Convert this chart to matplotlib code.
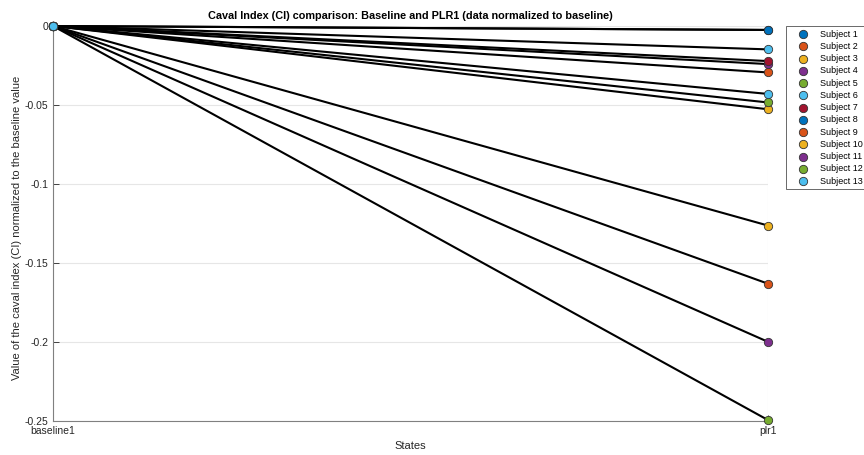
import numpy as np
import matplotlib.pyplot as plt

plt.rcParams['font.family'] = ['Liberation Sans', 'DejaVu Sans']

# 数据：每个受试者在两个状态下的归一化 CI
states = ['baseline1', 'plr1']
subjects = ['Subject %d' % i for i in range(1, 14)]
baseline = [0.0] * 13
plr1 = [-0.0025, -0.0294, -0.0527, -0.0241, -0.0484, -0.0148, -0.0222,
        -0.0025, -0.1631, -0.1263, -0.1999, -0.2494, -0.0430]
yTicks = [-0.25, -0.2, -0.15, -0.1, -0.05, 0]
yTickLabels = ['-0.25', '-0.2', '-0.15', '-0.1', '-0.05', '0']

# MATLAB 默认配色
cs = ['#0072BD', '#D95319', '#EDB120', '#7E2F8E', '#77AC30', '#4DBEEE', '#A2142F']

fig = plt.figure(figsize=(8.64, 4.55), dpi=100)
ax = fig.add_axes([53/864, 1-421/455, (768-53)/864, (421-26)/455])

xPos = np.arange(len(states))
handles = []
for i in range(len(subjects)):
    ax.plot(xPos, [baseline[i], plr1[i]], color='k', lw=1.5, zorder=2)
for i in range(len(subjects)):
    h = ax.scatter(xPos, [baseline[i], plr1[i]], s=36, color=cs[i % 7],
                   edgecolors='#333333', linewidths=0.6, zorder=3, label=subjects[i])
    handles.append(h)

ax.set_xlim(0, 1)
ax.set_ylim(-0.25, 0)
ax.set_xticks(xPos)
ax.set_xticklabels(states)
ax.set_yticks(yTicks)
ax.set_yticklabels(yTickLabels)
ax.tick_params(direction='in', length=4, labelsize=7.5, colors='#262626',
               labelcolor='#262626', width=0.6)
ax.grid(True, color='#e6e6e6', lw=0.8)
ax.set_axisbelow(True)
for s in ['top', 'right']:
    ax.spines[s].set_visible(False)
for s in ['left', 'bottom']:
    ax.spines[s].set_color('#808080')
    ax.spines[s].set_linewidth(0.8)
for sp in ax.spines.values():
    sp.set_zorder(1)
for c in ax.collections:
    c.set_clip_on(False)
for l in ax.lines:
    l.set_clip_on(False)

ax.set_title('Caval Index (CI) comparison: Baseline and PLR1 (data normalized to baseline)',
             fontsize=7.8, fontweight='bold', color='#000000', pad=5)
ax.set_xlabel('States', fontsize=8, color='#262626', labelpad=4)
ax.set_ylabel('Value of the caval index (CI) normalized to the baseline value',
              fontsize=8, color='#262626')
ax.yaxis.set_label_coords(-31/715, 0.49)

leg = fig.legend(handles=handles, loc='upper left', bbox_to_anchor=(786/864, 1-26/455),
                 fontsize=6.5, frameon=True, fancybox=False, edgecolor='#262626',
                 scatterpoints=1, labelspacing=0.36, handletextpad=0.4,
                 borderpad=0.4, handlelength=2.97, borderaxespad=0)
leg.get_frame().set_linewidth(0.6)

fig.savefig('out.png', dpi=100)
